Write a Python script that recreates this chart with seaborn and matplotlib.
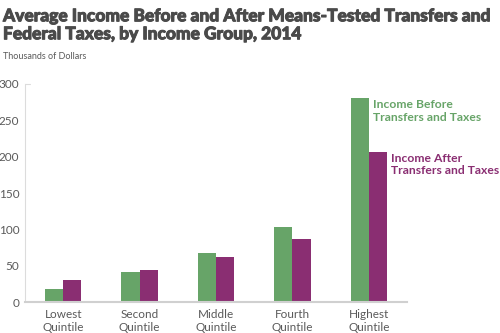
import matplotlib
matplotlib.use("Agg")
import matplotlib.pyplot as plt
import matplotlib.patheffects as pe
import seaborn as sns
import pandas as pd

groups = ["Lowest\nQuintile", "Second\nQuintile", "Middle\nQuintile", "Fourth\nQuintile", "Highest\nQuintile"]
income_before = [19, 42, 68, 104, 281]
income_after = [31, 44, 62, 87, 207]
series_names = ["Income Before\nTransfers and Taxes", "Income After\nTransfers and Taxes"]
y_ticks = [0, 50, 100, 150, 200, 250, 300]

GREEN = "#67a468"
PURPLE = "#8a2e72"
TEXT = "#4a4a4a"
TICK = "#5a5a5a"

df = pd.DataFrame({
    "group": groups * 2,
    "value": income_before + income_after,
    "series": [series_names[0]] * len(groups) + [series_names[1]] * len(groups),
})

sns.set_theme(style="white")
plt.rcParams["font.family"] = ["Lato", "DejaVu Sans"]

fig = plt.figure(figsize=(5, 3.33), dpi=100)
ax = fig.add_axes([0.05, 0.092, 0.764, 0.656])

sns.barplot(data=df, x="group", y="value", hue="series", order=groups,
            hue_order=series_names, palette=[GREEN, PURPLE], width=0.475,
            saturation=1, legend=False, ax=ax, linewidth=0)

ax.set_xlim(-0.5, 4.5)
ax.set_ylim(0, 300)
ax.set_yticks(y_ticks)
ax.set_xlabel("")
ax.set_ylabel("")
ax.tick_params(axis="both", length=0, labelsize=8.5, labelcolor=TICK)
ax.tick_params(axis="y", pad=4)
ax.tick_params(axis="x", pad=5)
for s in ["top", "right"]:
    ax.spines[s].set_visible(False)
ax.spines["left"].set_color("#dcdcdc")
ax.spines["left"].set_linewidth(0.8)
ax.spines["bottom"].set_color("#d0d0d0")
ax.spines["bottom"].set_linewidth(1.5)
ax.plot([0, 0.012], [300, 300], transform=ax.get_yaxis_transform(),
        color="#dcdcdc", lw=0.8, clip_on=False)

# Direct labels beside the tallest pair of bars
bar_w = 0.475 / 2
ax.text(4 + 0.05, income_before[4] - 2, series_names[0], color=GREEN,
        fontsize=8.7, fontweight="bold", va="top", ha="left", linespacing=1.15)
ax.text(4 + bar_w + 0.05, income_after[4] - 2, series_names[1], color=PURPLE,
        fontsize=8.7, fontweight="bold", va="top", ha="left", linespacing=1.15)

fig.text(0.006, 0.975, "Average Income Before and After Means-Tested Transfers and\nFederal Taxes, by Income Group, 2014",
         fontsize=12.5, fontweight="black", color=TEXT, va="top", ha="left", linespacing=1.15,
         path_effects=[pe.withStroke(linewidth=0.7, foreground=TEXT)])
fig.text(0.006, 0.83, "Thousands of Dollars", fontsize=6.5, color=TICK, va="center", ha="left")

fig.savefig("out.png", dpi=100, facecolor="white")
